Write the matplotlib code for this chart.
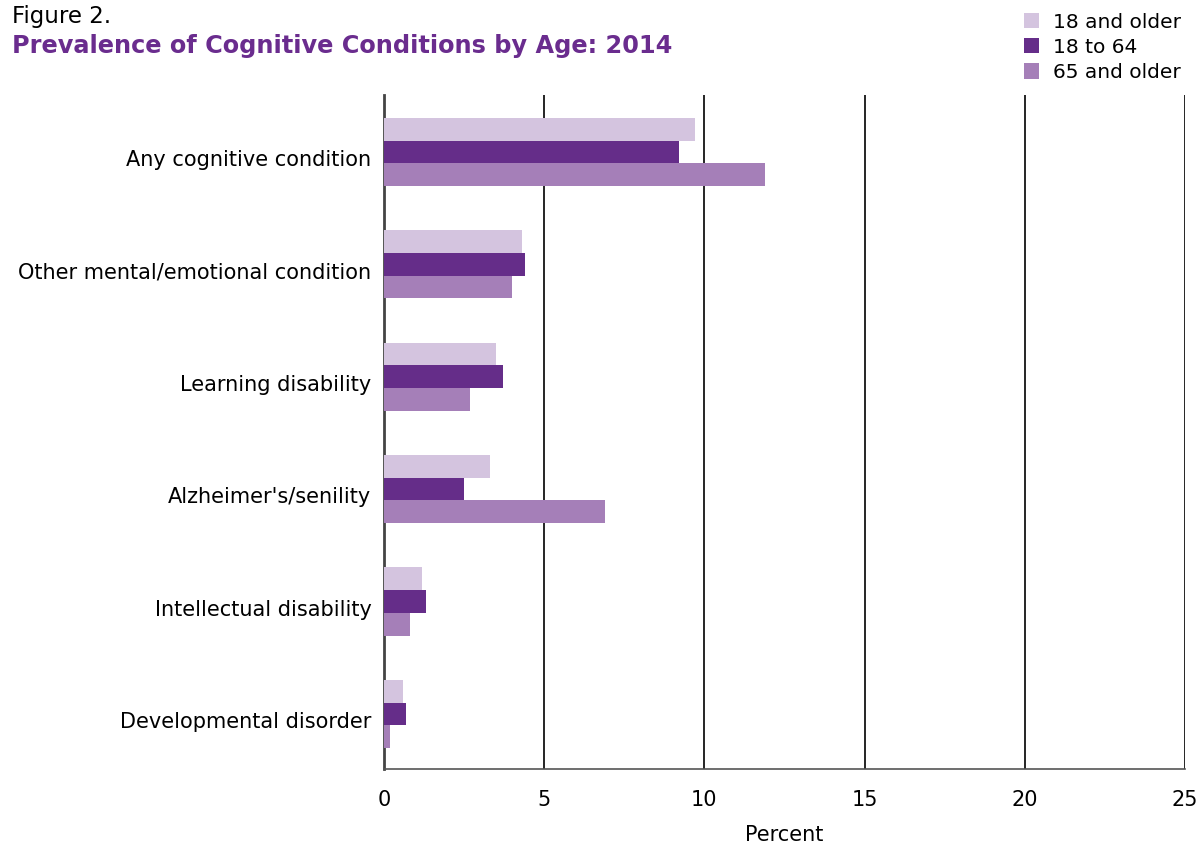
import matplotlib.pyplot as plt
import matplotlib.transforms as mtransforms
import numpy as np

conditions = ['Any cognitive condition', 'Other mental/emotional condition',
              'Learning disability', "Alzheimer's/senility",
              'Intellectual disability', 'Developmental disorder']
age_18_older = [9.7, 4.3, 3.5, 3.3, 1.2, 0.6]
age_18_64 = [9.2, 4.4, 3.7, 2.5, 1.3, 0.7]
age_65_older = [11.9, 4.0, 2.7, 6.9, 0.8, 0.2]
series_labels = ['18 and older', '18 to 64', '65 and older']
colors = ['#D4C4DF', '#652D89', '#A57FB8']

plt.rcParams['font.family'] = ['DejaVu Sans']

fig = plt.figure(figsize=(12.01, 8.43), dpi=100)
ax = fig.add_axes([0.3197, 0.0878, 0.667, 0.7995])

y = np.arange(len(conditions))
h = 0.202
for i, (vals, lab, col) in enumerate(zip([age_18_older, age_18_64, age_65_older],
                                          series_labels, colors)):
    ax.barh(y + (i - 1) * h, vals, height=h, color=col, label=lab, zorder=3)

ax.set_xlim(0, 25)
ax.set_ylim(5.49, -0.507)
ax.set_xticks([0, 5, 10, 15, 20, 25])
ax.grid(axis='x', color='black', linewidth=1.2, zorder=0)
ax.set_yticks(y)
ax.set_yticklabels(conditions)
ax.tick_params(axis='both', length=0, labelsize=15)
ax.tick_params(axis='x', pad=15)
ax.tick_params(axis='y', pad=9)
# labels sit a little below the bar group centre in the original
offset = mtransforms.ScaledTranslation(0, -6 / 100, fig.dpi_scale_trans)
for t in ax.get_yticklabels():
    t.set_transform(t.get_transform() + offset)
for s in ['top', 'right']:
    ax.spines[s].set_visible(False)
ax.spines['left'].set_color('#444444')
ax.spines['left'].set_linewidth(2)
ax.spines['bottom'].set_color('#555555')
ax.spines['bottom'].set_linewidth(1.2)
ax.set_xlabel('Percent', fontsize=15, labelpad=11)

fig.text(0.01, 0.981, 'Figure 2.', fontsize=16.5, va='center', ha='left')
fig.text(0.01, 0.946, 'Prevalence of Cognitive Conditions by Age: 2014', fontsize=17.3,
         fontweight='bold', color='#6A2C8E', va='center', ha='left')

ax.legend(loc='upper right', bbox_to_anchor=(0.997, 1.004), bbox_transform=fig.transFigure,
          frameon=False, fontsize=14.5, handlelength=0.75, handleheight=0.8,
          handletextpad=0.7, labelspacing=0.3, borderpad=0.3)

fig.savefig('out.png', dpi=100)
